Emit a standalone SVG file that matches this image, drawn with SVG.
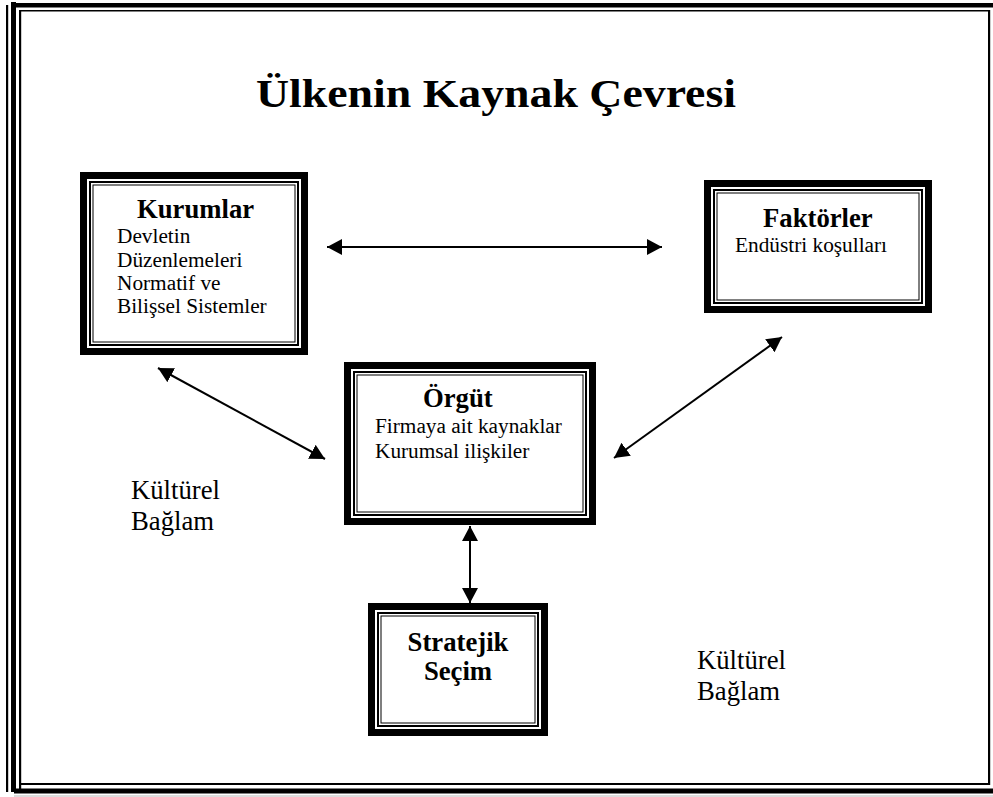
<svg xmlns="http://www.w3.org/2000/svg" width="993" height="797" viewBox="0 0 993 797">
<style>
text{font-family:"Liberation Serif",Tinos,"Times New Roman","DejaVu Serif",serif;fill:#000}
.b1{fill:none;stroke:#000;stroke-width:7}
.b2{fill:none;stroke:#000;stroke-width:2}
.b3{fill:none;stroke:#000;stroke-width:1}
.hd{font-weight:bold;font-size:26.7px}
.tx{font-size:21.3px}
.lb{font-size:26.7px}
.tt{font-weight:bold;font-size:41px}
.cn{fill:none;stroke:#000;stroke-width:2;marker-start:url(#ah);marker-end:url(#ah)}
</style>
<defs>
<marker id="ah" markerUnits="userSpaceOnUse" markerWidth="16" markerHeight="16" viewBox="0 0 16 16" refX="15" refY="8" orient="auto-start-reverse">
<path d="M0,0 L15,8 L0,16 z" fill="#000"/>
</marker>
</defs>
<rect width="993" height="797" fill="#fff"/>
<g id="page-border" fill="#000">
<rect x="14" y="3" width="979" height="4.5"/>
<rect x="19" y="10" width="971" height="1.5"/>
<rect x="6" y="5" width="2.2" height="787"/>
<rect x="11" y="2" width="5" height="790"/>
<rect x="19" y="10" width="2.2" height="780"/>
<rect x="988" y="10" width="2.2" height="775"/>
<rect x="19" y="783" width="971" height="2"/>
<rect x="14" y="788.5" width="979" height="5"/>
<rect x="14" y="795.5" width="979" height="1" fill="#bbb"/>
</g>
<text id="title" class="tt" x="256" y="107" textLength="480" lengthAdjust="spacingAndGlyphs">Ülkenin Kaynak Çevresi</text>
<g id="kurumlar">
<rect class="b1" x="83.5" y="175.5" width="221" height="176"/>
<rect class="b2" x="90" y="182" width="208" height="163"/>
<rect class="b3" x="93" y="185" width="202" height="157"/>
<text class="hd" x="137" y="218">Kurumlar</text>
<text class="tx" x="117" y="243">Devletin</text>
<text class="tx" x="117" y="266.5">Düzenlemeleri</text>
<text class="tx" x="117" y="290">Normatif ve</text>
<text class="tx" x="117" y="313">Bilişsel Sistemler</text>
</g>
<g id="faktorler">
<rect class="b1" x="707.5" y="183.5" width="221" height="126"/>
<rect class="b2" x="714" y="190" width="208" height="113"/>
<rect class="b3" x="717" y="193" width="202" height="107"/>
<text class="hd" x="763" y="227">Faktörler</text>
<text class="tx" x="735" y="252">Endüstri koşulları</text>
</g>
<g id="orgut">
<rect class="b1" x="347.5" y="365.5" width="245" height="156"/>
<rect class="b2" x="354" y="372" width="232" height="143"/>
<rect class="b3" x="357" y="375" width="226" height="137"/>
<text class="hd" x="423" y="407">Örgüt</text>
<text class="tx" x="375" y="433">Firmaya ait kaynaklar</text>
<text class="tx" x="375" y="458">Kurumsal ilişkiler</text>
</g>
<g id="stratejik">
<rect class="b1" x="371.5" y="606.5" width="173" height="126"/>
<rect class="b2" x="378" y="613" width="160" height="113"/>
<rect class="b3" x="381" y="616" width="154" height="107"/>
<text class="hd" x="458" y="651" text-anchor="middle">Stratejik</text>
<text class="hd" x="458" y="680" text-anchor="middle">Seçim</text>
</g>
<g id="labels">
<text class="lb" x="131" y="499">Kültürel</text>
<text class="lb" x="131" y="530">Bağlam</text>
<text class="lb" x="697" y="669">Kültürel</text>
<text class="lb" x="697" y="700">Bağlam</text>
</g>
<g id="connectors">
<line class="cn" x1="327" y1="247" x2="662" y2="247"/>
<line class="cn" x1="158" y1="368" x2="325" y2="459"/>
<line class="cn" x1="782" y1="337" x2="614" y2="458"/>
<line class="cn" x1="470" y1="526" x2="470" y2="603"/>
</g>
</svg>
